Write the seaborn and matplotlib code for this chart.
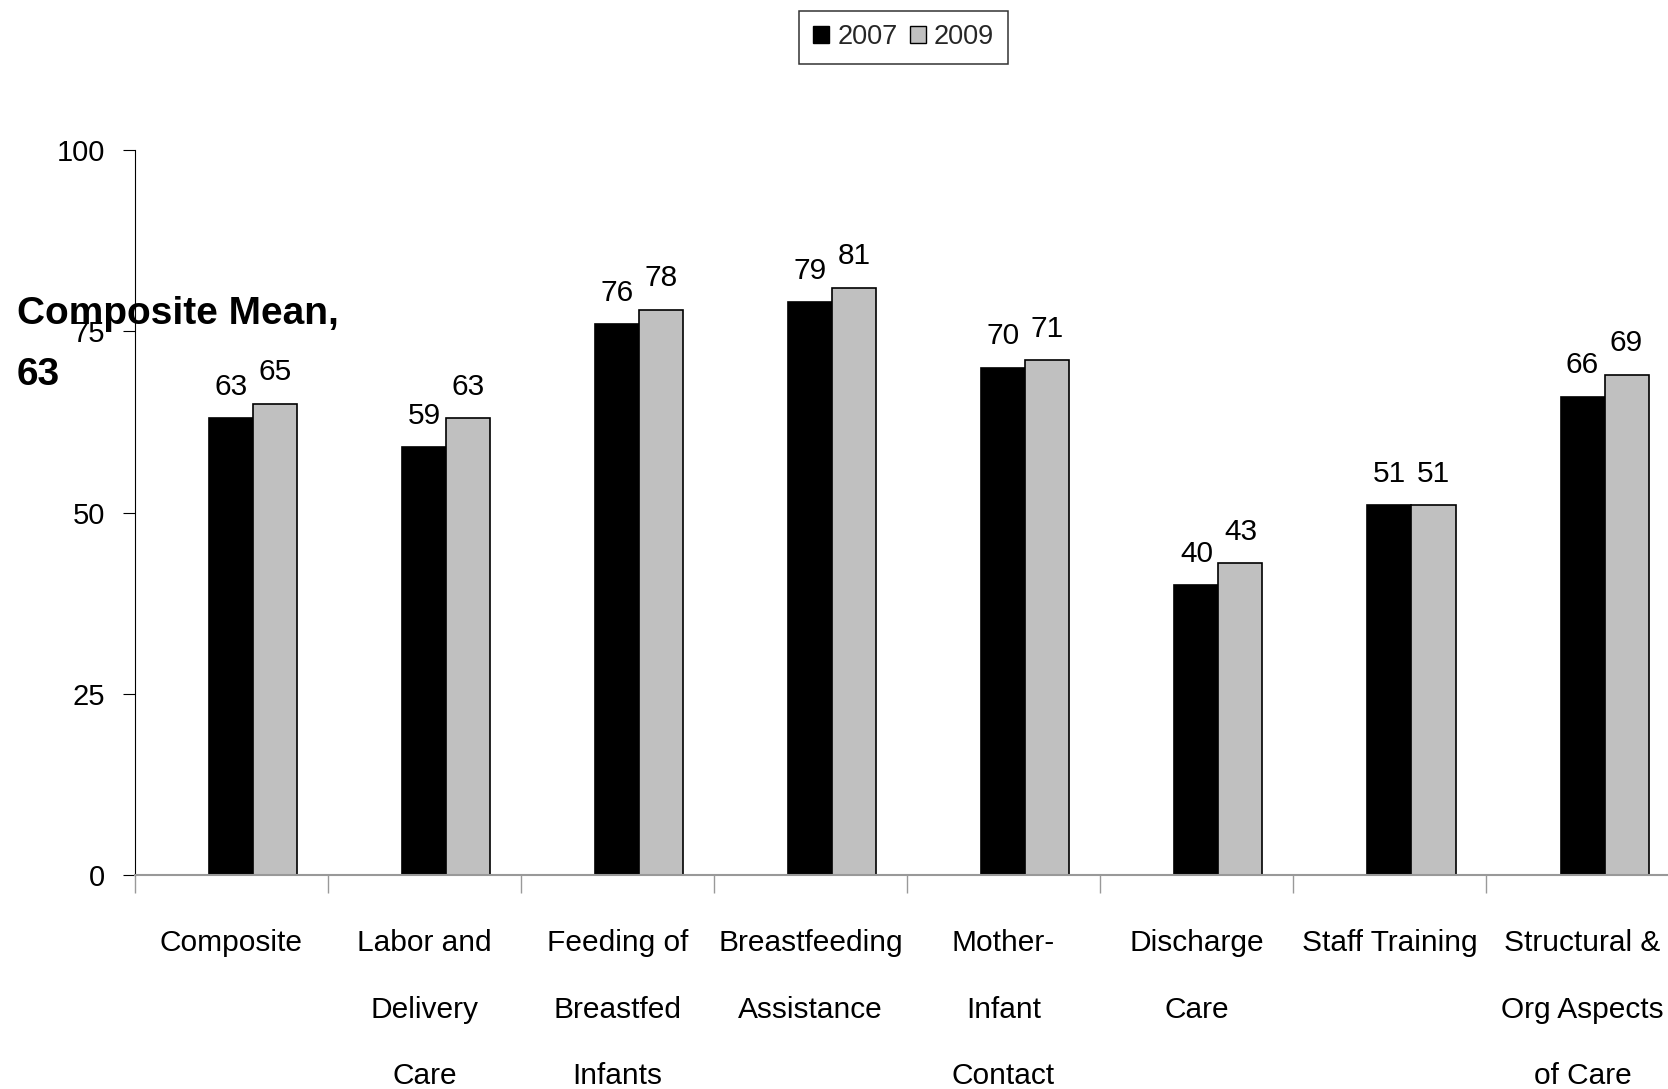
import numpy as np
import pandas as pd
import seaborn as sns
import matplotlib.pyplot as plt
from matplotlib.patches import Patch

categories = ["Composite", "Labor and\nDelivery\nCare", "Feeding of\nBreastfed\nInfants",
              "Breastfeeding\nAssistance", "Mother-\nInfant\nContact", "Discharge\nCare",
              "Staff Training", "Structural &\nOrg Aspects\nof Care"]
vals_2007 = [63, 59, 76, 79, 70, 40, 51, 66]
vals_2009 = [65, 63, 78, 81, 71, 43, 51, 69]
y_ticks = [0, 25, 50, 75, 100]

sns.set_theme(style="white")
plt.rcParams['font.family'] = ['Liberation Sans', 'DejaVu Sans']

# an empty first series keeps the bars shifted right, as in the original sheet
df = pd.DataFrame({
    "cat": categories * 3,
    "year": ["pad"] * 8 + ["2007"] * 8 + ["2009"] * 8,
    "val": [0] * 8 + vals_2007 + vals_2009,
})

fig = plt.figure(figsize=(16.68, 10.89), dpi=100)
ax = fig.add_axes([0.0809, 0.1965, 0.9257, 0.6657])

sns.barplot(data=df, x="cat", y="val", hue="year", hue_order=["pad", "2007", "2009"],
            palette={"pad": "white", "2007": "black", "2009": "#c0c0c0"},
            order=categories, width=0.684, edgecolor="black", linewidth=1.2,
            errorbar=None, legend=False, ax=ax)

# drop the pad bars
for p in list(ax.containers[0]):
    p.remove()
for cont in ax.containers[1:]:
    ax.bar_label(cont, fmt="%.0f", padding=12.5, fontsize=21.5, color="black")

ax.set_ylim(0, 100)
ax.set_xlim(-0.5, 7.5)
ax.set_yticks(y_ticks)
ax.set_yticklabels([str(t) for t in y_ticks], fontsize=21)
ax.set_xlabel("")
ax.set_ylabel("")

ax.set_xticks(range(8))
ax.set_xticklabels(categories, fontsize=21.5, linespacing=2.75)
ax.set_xticks(np.arange(-0.5, 8, 1), minor=True)
ax.tick_params(axis="x", which="major", length=0, pad=39, colors="black")
ax.tick_params(axis="x", which="minor", bottom=True, length=13, width=1.0,
               color="#999999", direction="out")
ax.tick_params(axis="y", which="major", length=8.6, width=0.8, color="black",
               direction="out", pad=13, left=True, labelcolor="black")

for s in ["top", "right"]:
    ax.spines[s].set_visible(False)
ax.spines["left"].set_color("black")
ax.spines["left"].set_linewidth(0.8)
ax.spines["bottom"].set_color("#999999")
ax.spines["bottom"].set_linewidth(1.5)

handles = [Patch(facecolor="black", edgecolor="black", label="2007"),
           Patch(facecolor="#c0c0c0", edgecolor="black", label="2009")]
leg = fig.legend(handles=handles, loc="upper center", bbox_to_anchor=(0.5417, 0.990),
                 ncol=2, fontsize=19.5, frameon=True, fancybox=False, shadow=False,
                 handlelength=0.6, handleheight=0.6, handletextpad=0.3,
                 columnspacing=0.45, borderpad=0.5, borderaxespad=0)
leg.get_frame().set_edgecolor("black")
leg.get_frame().set_linewidth(1.1)

fig.text(17 / 1668, 1 - 296 / 1089, "Composite Mean,\n63", fontsize=28, fontweight="bold",
         ha="left", va="top", linespacing=1.9, color="black")

fig.savefig("out.png", dpi=100)
